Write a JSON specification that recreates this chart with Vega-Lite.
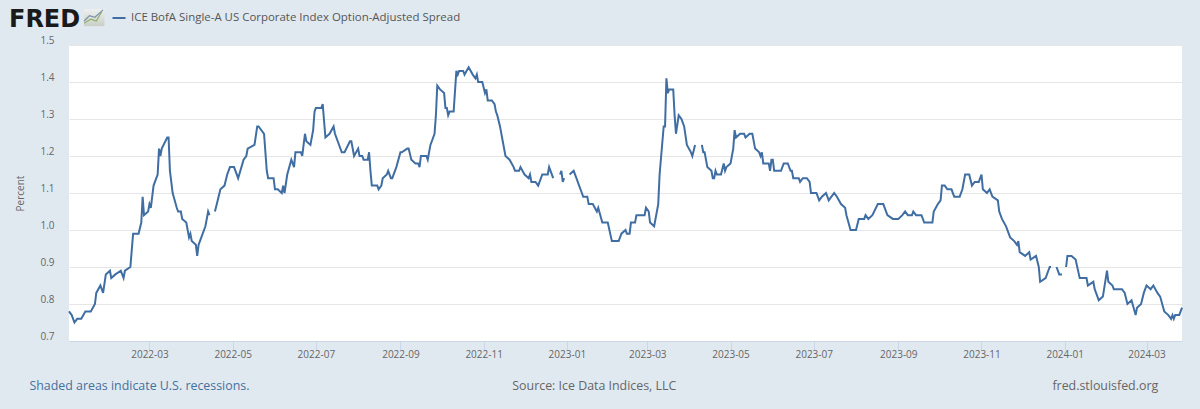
{
"$schema":"https://vega.github.io/schema/vega-lite/v6.json",
"width":1113,"height":296,
"autosize":{"type":"none"},
"padding":{"left":69,"top":45,"right":18,"bottom":68},
"background":"#e1e9f0",
"config":{"view":{"fill":"#ffffff","stroke":null},"font":"Open Sans"},
"datasets":{
"series":[
{"date":"2022-01-01","value":0.78},{"date":"2022-01-03","value":0.77},{"date":"2022-01-05","value":0.75},{"date":"2022-01-07","value":0.76},{"date":"2022-01-10","value":0.76},{"date":"2022-01-13","value":0.78},{"date":"2022-01-17","value":0.78},{"date":"2022-01-20","value":0.80},{"date":"2022-01-21","value":0.83},{"date":"2022-01-24","value":0.85},{"date":"2022-01-26","value":0.83},{"date":"2022-01-28","value":0.88},{"date":"2022-01-31","value":0.89},{"date":"2022-02-01","value":0.87},{"date":"2022-02-04","value":0.88},{"date":"2022-02-08","value":0.89},{"date":"2022-02-10","value":0.87},{"date":"2022-02-11","value":0.89},{"date":"2022-02-15","value":0.90},{"date":"2022-02-17","value":0.99},{"date":"2022-02-21","value":0.99},{"date":"2022-02-23","value":1.02},{"date":"2022-02-24","value":1.09},{"date":"2022-02-25","value":1.04},{"date":"2022-02-28","value":1.05},
{"date":"2022-03-01","value":1.07},{"date":"2022-03-02","value":1.06},{"date":"2022-03-04","value":1.12},{"date":"2022-03-07","value":1.15},{"date":"2022-03-08","value":1.22},{"date":"2022-03-09","value":1.20},{"date":"2022-03-10","value":1.22},{"date":"2022-03-14","value":1.25},{"date":"2022-03-15","value":1.25},{"date":"2022-03-16","value":1.16},{"date":"2022-03-18","value":1.10},{"date":"2022-03-21","value":1.06},{"date":"2022-03-22","value":1.05},{"date":"2022-03-24","value":1.05},{"date":"2022-03-25","value":1.03},{"date":"2022-03-28","value":1.02},{"date":"2022-03-30","value":0.98},{"date":"2022-03-31","value":0.99},
{"date":"2022-04-01","value":0.97},{"date":"2022-04-04","value":0.96},{"date":"2022-04-05","value":0.93},{"date":"2022-04-06","value":0.96},{"date":"2022-04-11","value":1.01},{"date":"2022-04-13","value":1.05},{"date":"2022-04-14","value":1.04},{"date":"2022-04-15","value":null},{"date":"2022-04-18","value":1.05},{"date":"2022-04-20","value":1.08},{"date":"2022-04-22","value":1.11},{"date":"2022-04-25","value":1.12},{"date":"2022-04-27","value":1.15},{"date":"2022-04-29","value":1.17},
{"date":"2022-05-02","value":1.17},{"date":"2022-05-05","value":1.14},{"date":"2022-05-09","value":1.19},{"date":"2022-05-11","value":1.20},{"date":"2022-05-12","value":1.22},{"date":"2022-05-17","value":1.23},{"date":"2022-05-19","value":1.28},{"date":"2022-05-20","value":1.28},{"date":"2022-05-24","value":1.26},{"date":"2022-05-26","value":1.16},{"date":"2022-05-27","value":1.14},{"date":"2022-05-31","value":1.14},
{"date":"2022-06-01","value":1.11},{"date":"2022-06-03","value":1.11},{"date":"2022-06-06","value":1.10},{"date":"2022-06-07","value":1.12},{"date":"2022-06-08","value":1.10},{"date":"2022-06-10","value":1.15},{"date":"2022-06-13","value":1.19},{"date":"2022-06-15","value":1.17},{"date":"2022-06-16","value":1.21},{"date":"2022-06-20","value":1.21},{"date":"2022-06-21","value":1.20},{"date":"2022-06-23","value":1.26},{"date":"2022-06-24","value":1.24},{"date":"2022-06-27","value":1.23},{"date":"2022-06-29","value":1.27},{"date":"2022-06-30","value":1.32},
{"date":"2022-07-01","value":1.33},{"date":"2022-07-05","value":1.33},{"date":"2022-07-06","value":1.34},{"date":"2022-07-08","value":1.25},{"date":"2022-07-11","value":1.26},{"date":"2022-07-14","value":1.28},{"date":"2022-07-15","value":1.26},{"date":"2022-07-20","value":1.21},{"date":"2022-07-22","value":1.21},{"date":"2022-07-26","value":1.24},{"date":"2022-07-27","value":1.24},{"date":"2022-07-29","value":1.20},
{"date":"2022-08-01","value":1.22},{"date":"2022-08-02","value":1.20},{"date":"2022-08-04","value":1.20},{"date":"2022-08-05","value":1.19},{"date":"2022-08-08","value":1.19},{"date":"2022-08-09","value":1.21},{"date":"2022-08-10","value":1.16},{"date":"2022-08-11","value":1.12},{"date":"2022-08-15","value":1.12},{"date":"2022-08-16","value":1.11},{"date":"2022-08-18","value":1.12},{"date":"2022-08-19","value":1.14},{"date":"2022-08-22","value":1.15},{"date":"2022-08-23","value":1.16},{"date":"2022-08-25","value":1.14},{"date":"2022-08-26","value":1.14},{"date":"2022-08-29","value":1.17},
{"date":"2022-09-01","value":1.21},{"date":"2022-09-02","value":1.21},{"date":"2022-09-06","value":1.22},{"date":"2022-09-07","value":1.22},{"date":"2022-09-09","value":1.19},{"date":"2022-09-12","value":1.18},{"date":"2022-09-14","value":1.18},{"date":"2022-09-15","value":1.17},{"date":"2022-09-16","value":1.20},{"date":"2022-09-20","value":1.20},{"date":"2022-09-21","value":1.19},{"date":"2022-09-23","value":1.23},{"date":"2022-09-26","value":1.26},{"date":"2022-09-27","value":1.31},{"date":"2022-09-28","value":1.39},{"date":"2022-09-30","value":1.38},
{"date":"2022-10-03","value":1.37},{"date":"2022-10-04","value":1.33},{"date":"2022-10-05","value":1.33},{"date":"2022-10-06","value":1.31},{"date":"2022-10-07","value":1.32},{"date":"2022-10-10","value":1.32},{"date":"2022-10-12","value":1.43},{"date":"2022-10-13","value":1.42},{"date":"2022-10-14","value":1.43},{"date":"2022-10-17","value":1.43},{"date":"2022-10-18","value":1.42},{"date":"2022-10-21","value":1.44},{"date":"2022-10-24","value":1.42},{"date":"2022-10-26","value":1.41},{"date":"2022-10-27","value":1.42},{"date":"2022-10-28","value":1.40},{"date":"2022-10-31","value":1.40},
{"date":"2022-11-02","value":1.37},{"date":"2022-11-03","value":1.38},{"date":"2022-11-04","value":1.35},{"date":"2022-11-07","value":1.35},{"date":"2022-11-09","value":1.34},{"date":"2022-11-10","value":1.32},{"date":"2022-11-11","value":1.31},{"date":"2022-11-13","value":1.28},{"date":"2022-11-15","value":1.24},{"date":"2022-11-17","value":1.20},{"date":"2022-11-20","value":1.19},{"date":"2022-11-23","value":1.17},{"date":"2022-11-24","value":1.16},{"date":"2022-11-27","value":1.16},{"date":"2022-11-28","value":1.17},
{"date":"2022-12-01","value":1.15},{"date":"2022-12-04","value":1.14},{"date":"2022-12-05","value":1.15},{"date":"2022-12-06","value":1.13},{"date":"2022-12-09","value":1.13},{"date":"2022-12-11","value":1.12},{"date":"2022-12-14","value":1.15},{"date":"2022-12-18","value":1.15},{"date":"2022-12-19","value":1.17},{"date":"2022-12-22","value":1.14},{"date":"2022-12-24","value":null},{"date":"2022-12-27","value":1.15},{"date":"2022-12-28","value":1.16},{"date":"2022-12-29","value":1.13},{"date":"2022-12-30","value":1.14},{"date":"2023-01-02","value":null},
{"date":"2023-01-03","value":1.15},{"date":"2023-01-06","value":1.16},{"date":"2023-01-08","value":1.14},{"date":"2023-01-12","value":1.10},{"date":"2023-01-13","value":1.09},{"date":"2023-01-16","value":1.09},{"date":"2023-01-17","value":1.07},{"date":"2023-01-20","value":1.07},{"date":"2023-01-23","value":1.05},{"date":"2023-01-24","value":1.06},{"date":"2023-01-27","value":1.02},{"date":"2023-01-31","value":1.02},
{"date":"2023-02-03","value":0.97},{"date":"2023-02-08","value":0.97},{"date":"2023-02-10","value":0.99},{"date":"2023-02-13","value":1.00},{"date":"2023-02-14","value":0.99},{"date":"2023-02-16","value":0.99},{"date":"2023-02-17","value":1.02},{"date":"2023-02-20","value":1.02},{"date":"2023-02-21","value":1.04},{"date":"2023-02-27","value":1.04},{"date":"2023-02-28","value":1.06},
{"date":"2023-03-02","value":1.05},{"date":"2023-03-03","value":1.02},{"date":"2023-03-06","value":1.01},{"date":"2023-03-09","value":1.07},{"date":"2023-03-10","value":1.15},{"date":"2023-03-13","value":1.28},{"date":"2023-03-14","value":1.28},{"date":"2023-03-15","value":1.41},{"date":"2023-03-16","value":1.37},{"date":"2023-03-17","value":1.38},{"date":"2023-03-20","value":1.38},{"date":"2023-03-21","value":1.31},{"date":"2023-03-22","value":1.26},{"date":"2023-03-24","value":1.31},{"date":"2023-03-26","value":1.30},{"date":"2023-03-28","value":1.28},{"date":"2023-03-30","value":1.23},
{"date":"2023-04-02","value":1.21},{"date":"2023-04-03","value":1.20},{"date":"2023-04-05","value":1.23},{"date":"2023-04-07","value":null},{"date":"2023-04-10","value":1.23},{"date":"2023-04-11","value":1.21},{"date":"2023-04-12","value":1.21},{"date":"2023-04-14","value":1.17},{"date":"2023-04-17","value":1.16},{"date":"2023-04-18","value":1.14},{"date":"2023-04-19","value":1.14},{"date":"2023-04-20","value":1.16},{"date":"2023-04-21","value":1.15},{"date":"2023-04-24","value":1.15},{"date":"2023-04-26","value":1.18},{"date":"2023-04-27","value":1.16},{"date":"2023-04-28","value":1.17},
{"date":"2023-05-01","value":1.18},{"date":"2023-05-03","value":1.22},{"date":"2023-05-04","value":1.27},{"date":"2023-05-05","value":1.25},{"date":"2023-05-08","value":1.26},{"date":"2023-05-11","value":1.26},{"date":"2023-05-12","value":1.25},{"date":"2023-05-15","value":1.26},{"date":"2023-05-17","value":1.26},{"date":"2023-05-19","value":1.22},{"date":"2023-05-22","value":1.21},{"date":"2023-05-23","value":1.20},{"date":"2023-05-24","value":1.21},{"date":"2023-05-25","value":1.18},{"date":"2023-05-29","value":1.18},{"date":"2023-05-30","value":1.16},{"date":"2023-05-31","value":1.19},
{"date":"2023-06-01","value":1.19},{"date":"2023-06-02","value":1.16},{"date":"2023-06-07","value":1.16},{"date":"2023-06-09","value":1.18},{"date":"2023-06-12","value":1.18},{"date":"2023-06-14","value":1.16},{"date":"2023-06-15","value":1.16},{"date":"2023-06-16","value":1.14},{"date":"2023-06-20","value":1.14},{"date":"2023-06-21","value":1.13},{"date":"2023-06-23","value":1.14},{"date":"2023-06-26","value":1.14},{"date":"2023-06-28","value":1.13},{"date":"2023-06-29","value":1.10},
{"date":"2023-07-03","value":1.10},{"date":"2023-07-05","value":1.08},{"date":"2023-07-07","value":1.09},{"date":"2023-07-10","value":1.10},{"date":"2023-07-12","value":1.08},{"date":"2023-07-16","value":1.10},{"date":"2023-07-18","value":1.09},{"date":"2023-07-21","value":1.07},{"date":"2023-07-24","value":1.06},{"date":"2023-07-25","value":1.04},{"date":"2023-07-28","value":1.00},
{"date":"2023-08-01","value":1.00},{"date":"2023-08-03","value":1.03},{"date":"2023-08-07","value":1.03},{"date":"2023-08-08","value":1.04},{"date":"2023-08-10","value":1.03},{"date":"2023-08-13","value":1.04},{"date":"2023-08-17","value":1.07},{"date":"2023-08-21","value":1.07},{"date":"2023-08-24","value":1.04},{"date":"2023-08-28","value":1.03},
{"date":"2023-09-01","value":1.03},{"date":"2023-09-04","value":1.04},{"date":"2023-09-06","value":1.05},{"date":"2023-09-08","value":1.04},{"date":"2023-09-11","value":1.04},{"date":"2023-09-12","value":1.05},{"date":"2023-09-14","value":1.04},{"date":"2023-09-18","value":1.04},{"date":"2023-09-20","value":1.02},{"date":"2023-09-26","value":1.02},{"date":"2023-09-27","value":1.05},{"date":"2023-09-30","value":1.07},
{"date":"2023-10-02","value":1.08},{"date":"2023-10-03","value":1.12},{"date":"2023-10-05","value":1.12},{"date":"2023-10-07","value":1.11},{"date":"2023-10-10","value":1.11},{"date":"2023-10-12","value":1.09},{"date":"2023-10-16","value":1.09},{"date":"2023-10-18","value":1.11},{"date":"2023-10-20","value":1.15},{"date":"2023-10-23","value":1.15},{"date":"2023-10-25","value":1.12},{"date":"2023-10-27","value":1.13},{"date":"2023-10-30","value":1.13},
{"date":"2023-11-01","value":1.15},{"date":"2023-11-02","value":1.11},{"date":"2023-11-05","value":1.10},{"date":"2023-11-07","value":1.11},{"date":"2023-11-09","value":1.09},{"date":"2023-11-13","value":1.08},{"date":"2023-11-14","value":1.05},{"date":"2023-11-16","value":1.03},{"date":"2023-11-19","value":1.01},{"date":"2023-11-22","value":0.98},{"date":"2023-11-25","value":0.97},{"date":"2023-11-27","value":0.96},{"date":"2023-11-28","value":0.97},{"date":"2023-11-29","value":0.94},
{"date":"2023-12-03","value":0.93},{"date":"2023-12-06","value":0.94},{"date":"2023-12-07","value":0.92},{"date":"2023-12-11","value":0.93},{"date":"2023-12-13","value":0.90},{"date":"2023-12-14","value":0.86},{"date":"2023-12-18","value":0.87},{"date":"2023-12-21","value":0.90},{"date":"2023-12-22","value":0.90},{"date":"2023-12-25","value":null},{"date":"2023-12-26","value":0.90},{"date":"2023-12-28","value":0.88},{"date":"2023-12-30","value":0.88},{"date":"2024-01-01","value":null},
{"date":"2024-01-02","value":0.90},{"date":"2024-01-03","value":0.93},{"date":"2024-01-06","value":0.93},{"date":"2024-01-09","value":0.92},{"date":"2024-01-12","value":0.87},{"date":"2024-01-17","value":0.87},{"date":"2024-01-18","value":0.85},{"date":"2024-01-22","value":0.86},{"date":"2024-01-23","value":0.84},{"date":"2024-01-26","value":0.81},{"date":"2024-01-29","value":0.82},
{"date":"2024-02-01","value":0.89},{"date":"2024-02-02","value":0.86},{"date":"2024-02-05","value":0.85},{"date":"2024-02-06","value":0.84},{"date":"2024-02-12","value":0.84},{"date":"2024-02-14","value":0.83},{"date":"2024-02-16","value":0.80},{"date":"2024-02-19","value":0.81},{"date":"2024-02-22","value":0.77},{"date":"2024-02-23","value":0.79},{"date":"2024-02-26","value":0.80},{"date":"2024-02-28","value":0.83},
{"date":"2024-03-01","value":0.85},{"date":"2024-03-04","value":0.84},{"date":"2024-03-06","value":0.85},{"date":"2024-03-09","value":0.83},{"date":"2024-03-11","value":0.82},{"date":"2024-03-14","value":0.78},{"date":"2024-03-17","value":0.77},{"date":"2024-03-19","value":0.76},{"date":"2024-03-20","value":0.77},{"date":"2024-03-21","value":0.76},{"date":"2024-03-22","value":0.77},{"date":"2024-03-25","value":0.77},{"date":"2024-03-27","value":0.79}
]},
"encoding":{
"x":{"field":"date","type":"temporal","title":null,
"scale":{"type":"utc","domain":[{"year":2022,"month":1,"date":1,"utc":true},{"year":2024,"month":3,"date":27,"utc":true}]},
"axis":{"format":"%Y-%m","values":[{"year":2022,"month":3,"date":1,"utc":true},{"year":2022,"month":5,"date":1,"utc":true},{"year":2022,"month":7,"date":1,"utc":true},{"year":2022,"month":9,"date":1,"utc":true},{"year":2022,"month":11,"date":1,"utc":true},{"year":2023,"month":1,"date":1,"utc":true},{"year":2023,"month":3,"date":1,"utc":true},{"year":2023,"month":5,"date":1,"utc":true},{"year":2023,"month":7,"date":1,"utc":true},{"year":2023,"month":9,"date":1,"utc":true},{"year":2023,"month":11,"date":1,"utc":true},{"year":2024,"month":1,"date":1,"utc":true},{"year":2024,"month":3,"date":1,"utc":true}],
"grid":false,"domainColor":"#ccd6eb","tickColor":"#ccd6eb","tickSize":9,"labelColor":"#666666","labelFontSize":10,"labelPadding":-1,"labelFlush":false,"labelOverlap":false}},
"y":{"field":"value","type":"quantitative","title":"Percent",
"scale":{"domain":[0.7,1.5],"nice":false,"zero":false},
"axis":{"values":[0.7,0.8,0.9,1.0,1.1,1.2,1.3,1.4,1.5],"format":".1f","domain":false,"ticks":false,"gridColor":"#e6e6e6","labelColor":"#666666","labelFontSize":10,"labelPadding":15,"labelOffset":-5,"titleColor":"#666666","titleFontSize":10,"titleFontWeight":"normal","titlePadding":14}}
},
"layer":[
{"data":{"values":[{"date":"2022-01-12","date2":"2022-01-27","value":1.597,"value2":1.551}]},
 "mark":{"type":"rect","fill":{"gradient":"linear","x1":0,"y1":0,"x2":0,"y2":1,"stops":[{"offset":0,"color":"#eef0ee"},{"offset":1,"color":"#c9cfc6"}]}},
 "encoding":{"x2":{"field":"date2"},"y2":{"field":"value2"}}},
{"data":{"values":[{"date":"2022-01-12","value":1.559},{"date":"2022-01-17","value":1.570},{"date":"2022-01-21","value":1.565},{"date":"2022-01-25","value":1.590}]},
 "mark":{"type":"line","color":"#8fae6a","strokeWidth":1.2}},
{"data":{"values":[{"date":"2022-01-12","value":1.565},{"date":"2022-01-16","value":1.579},{"date":"2022-01-20","value":1.575},{"date":"2022-01-26","value":1.595}]},
 "mark":{"type":"line","color":"#7d93ab","strokeWidth":1.2}},
{"data":{"name":"series"},
 "mark":{"type":"line","strokeWidth":2,"interpolate":"linear"},
 "encoding":{"color":{"datum":"ICE BofA Single-A US Corporate Index Option-Adjusted Spread",
   "scale":{"range":["#406ea3"]},
   "legend":{"title":null,"orient":"none","legendX":42,"legendY":-35,"symbolType":"stroke","symbolSize":170,"symbolStrokeWidth":2,"labelFontSize":11.45,"labelColor":"#555555","labelFontWeight":"normal","labelLimit":500}}}},
{"data":{"values":[{"date":"2021-11-18","value":1.568,"label":"FRED"}]},
 "mark":{"type":"text","align":"left","baseline":"middle","font":"DejaVu Sans","fontWeight":"bold","fontSize":24,"color":"#1a1a1a"},
 "encoding":{"text":{"field":"label"}}},
{"data":{"values":[{"date":"2021-12-03","value":0.578,"label":"Shaded areas indicate U.S. recessions."}]},
 "mark":{"type":"text","align":"left","baseline":"middle","fontSize":12.4,"color":"#44709f"},
 "encoding":{"text":{"field":"label"}}},
{"data":{"values":[{"date":"2022-11-22","value":0.578,"label":"Source: Ice Data Indices, LLC"},{"date":"2023-12-23","value":0.578,"label":"fred.stlouisfed.org"}]},
 "mark":{"type":"text","align":"left","baseline":"middle","fontSize":12.4,"color":"#666666"},
 "encoding":{"text":{"field":"label"}}}
]
}
